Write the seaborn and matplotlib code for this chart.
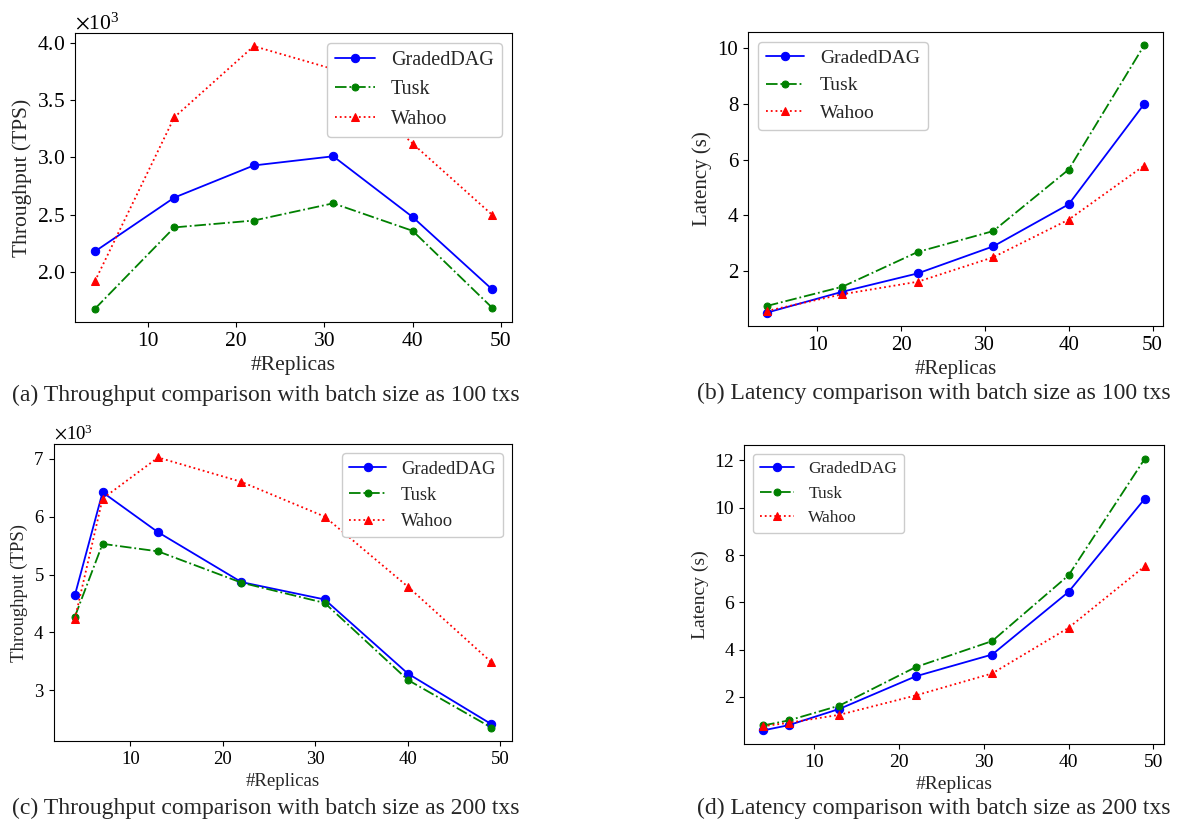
import matplotlib
matplotlib.use("Agg")
import matplotlib.pyplot as plt
import seaborn as sns
from matplotlib.ticker import ScalarFormatter

# Data
replicas_100 = [4, 13, 22, 31, 40, 49]
replicas_200 = [4, 7, 13, 22, 31, 40, 49]

# (a) throughput, batch size 100 (TPS)
tps100_graded = [2180, 2650, 2930, 3010, 2480, 1850]
tps100_tusk = [1680, 2390, 2450, 2600, 2360, 1690]
tps100_wahoo = [1920, 3350, 3970, 3770, 3120, 2500]

# (b) latency, batch size 100 (s)
lat100_graded = [0.51, 1.26, 1.92, 2.89, 4.40, 8.00]
lat100_tusk = [0.75, 1.44, 2.69, 3.44, 5.65, 10.11]
lat100_wahoo = [0.57, 1.17, 1.62, 2.50, 3.85, 5.79]

# (c) throughput, batch size 200 (TPS)
tps200_graded = [4640, 6420, 5730, 4870, 4570, 3290, 2420]
tps200_tusk = [4270, 5530, 5400, 4860, 4510, 3180, 2360]
tps200_wahoo = [4230, 6310, 7020, 6600, 6000, 4790, 3490]

# (d) latency, batch size 200 (s)
lat200_graded = [0.58, 0.80, 1.49, 2.87, 3.79, 6.44, 10.39]
lat200_tusk = [0.79, 1.00, 1.63, 3.26, 4.36, 7.14, 12.08]
lat200_wahoo = [0.76, 0.90, 1.24, 2.06, 2.99, 4.92, 7.53]

protocols = ["GradedDAG", "Tusk", "Wahoo"]
captions = [
    "(a) Throughput comparison with batch size as 100 txs",
    "(b) Latency comparison with batch size as 100 txs",
    "(c) Throughput comparison with batch size as 200 txs",
    "(d) Latency comparison with batch size as 200 txs",
]

sns.set_style("ticks")
plt.rcParams["font.family"] = ["Liberation Serif", "DejaVu Serif"]
plt.rcParams["mathtext.fontset"] = "stix"
plt.rcParams["axes.edgecolor"] = "black"
plt.rcParams["xtick.color"] = "black"
plt.rcParams["ytick.color"] = "black"

styles = {
    "GradedDAG": dict(color="blue", linestyle="-", marker="o", markersize=6),
    "Tusk": dict(color="green", linestyle="-.", marker="o", markersize=5),
    "Wahoo": dict(color="red", linestyle=":", marker="^", markersize=6),
}

W, H = 1193, 827
fig = plt.figure(figsize=(W / 100, H / 100), dpi=100)


def make_axes(x0, x1, y0, y1):
    return fig.add_axes([x0 / W, 1 - y1 / H, (x1 - x0) / W, (y1 - y0) / H])


panels = [
    (make_axes(75, 512, 33, 322), replicas_100,
     [tps100_graded, tps100_tusk, tps100_wahoo], "Throughput (TPS)", "upper right", 15.5, 14.5),
    (make_axes(748, 1163, 32, 326), replicas_100,
     [lat100_graded, lat100_tusk, lat100_wahoo], "Latency (s)", "upper left", 15, 14),
    (make_axes(54, 512, 444, 741), replicas_200,
     [tps200_graded, tps200_tusk, tps200_wahoo], "Throughput (TPS)", "upper right", 13.5, 13.3),
    (make_axes(744, 1164, 445, 744), replicas_200,
     [lat200_graded, lat200_tusk, lat200_wahoo], "Latency (s)", "upper left", 14, 12.5),
]

for ax, xs, series, ylabel, loc, fs, legfs in panels:
    for name, ys in zip(protocols, series):
        st = styles[name]
        sns.lineplot(x=xs, y=ys, ax=ax, label=name, color=st["color"],
                     linestyle=st["linestyle"], marker=st["marker"],
                     markersize=st["markersize"], markeredgecolor=st["color"],
                     linewidth=1.3)
    ax.set_xlabel("#Replicas", fontsize=fs)
    ax.set_ylabel(ylabel, fontsize=fs)
    ax.tick_params(labelsize=fs)
    if "Throughput" in ylabel:
        fmt = ScalarFormatter(useMathText=True)
        fmt.set_powerlimits((0, 0))
        ax.yaxis.set_major_formatter(fmt)
        ax.yaxis.get_offset_text().set_fontsize(fs)
    ax.legend(loc=loc, fontsize=legfs, frameon=True, framealpha=1)
    for sp in ax.spines.values():
        sp.set_visible(True)

# sub-figure captions
fig.text(266 / W, 1 - 395 / H, captions[0], ha="center", va="center", fontsize=17)
fig.text(934 / W, 1 - 393 / H, captions[1], ha="center", va="center", fontsize=17)
fig.text(266 / W, 1 - 808 / H, captions[2], ha="center", va="center", fontsize=17)
fig.text(934 / W, 1 - 808 / H, captions[3], ha="center", va="center", fontsize=17)

fig.savefig("out.png", dpi=100)
